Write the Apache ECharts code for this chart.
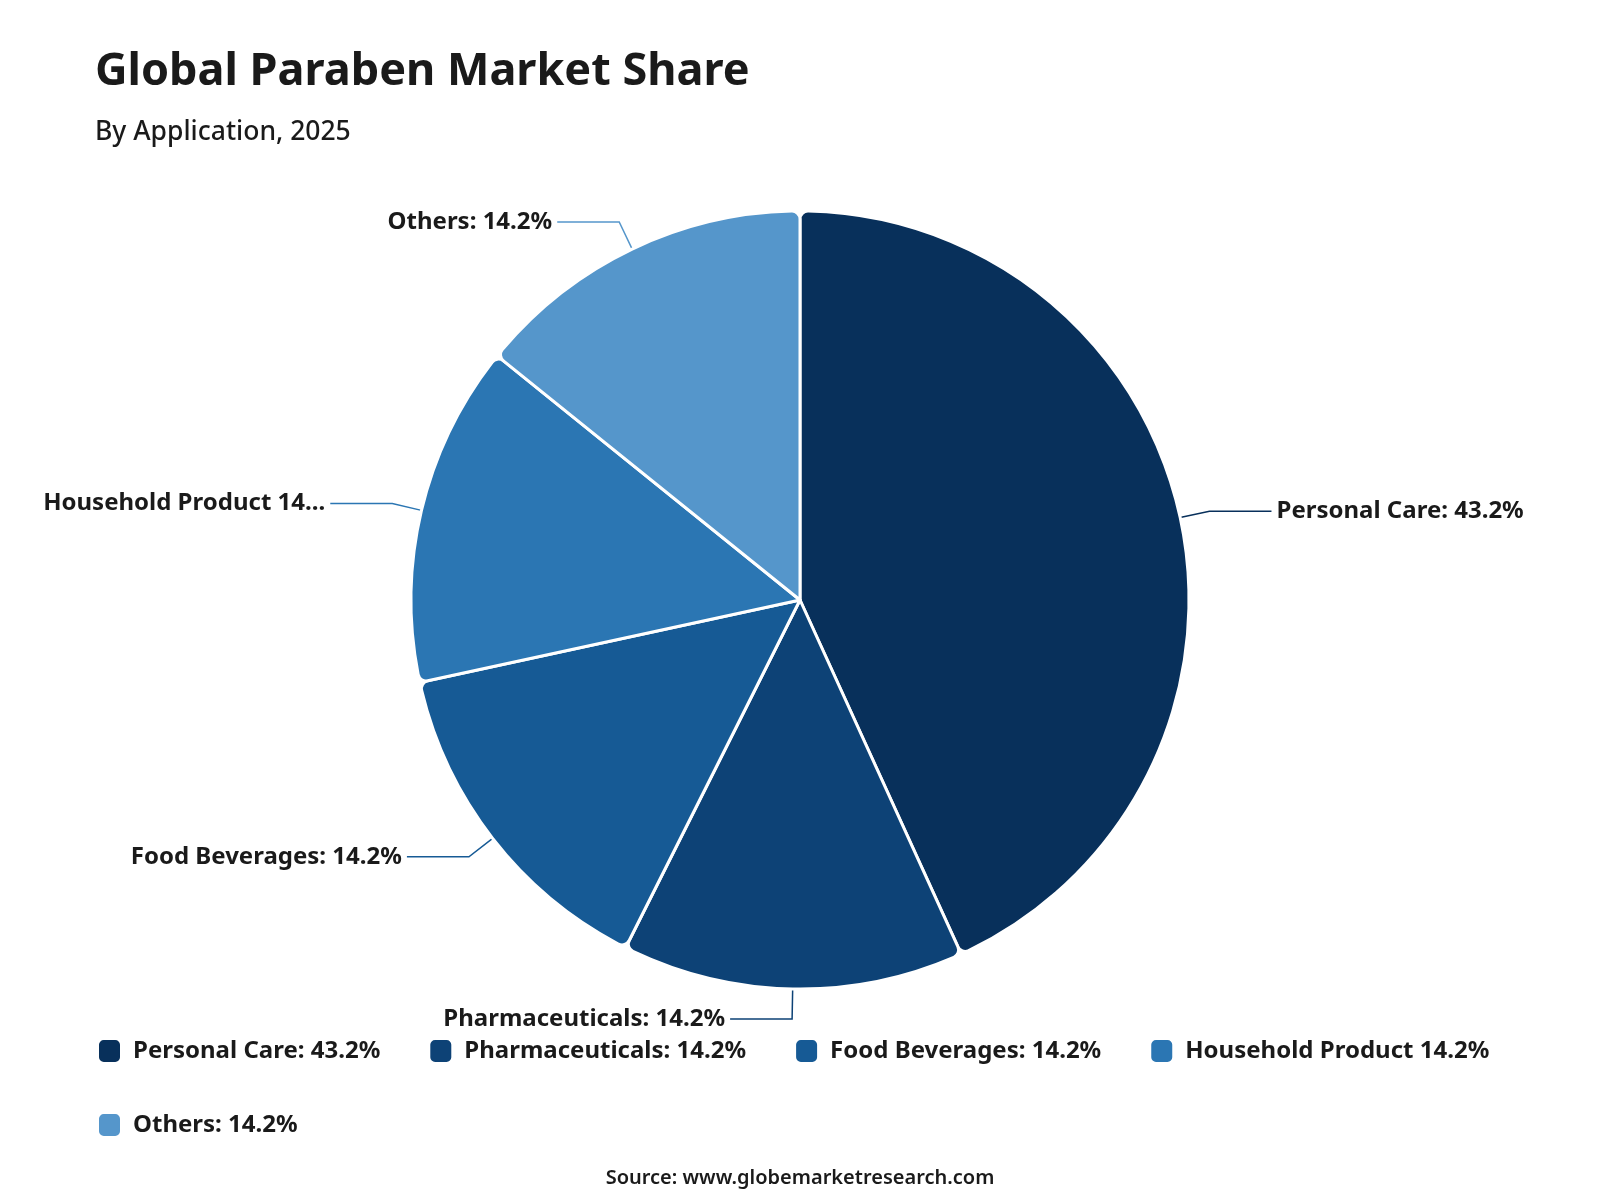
<!DOCTYPE html>
<html>
<head>
<meta charset="utf-8">
<script src="https://cdn.jsdelivr.net/npm/echarts@6/dist/echarts.min.js"></script>
<style>
html,body{margin:0;padding:0;background:#fff;}
#chart{width:1600px;height:1200px;}
</style>
</head>
<body>
<div id="chart"></div>
<script>
const categories = ["Personal Care: 43.2%", "Pharmaceuticals: 14.2%", "Food Beverages: 14.2%", "Household Product 14.2%", "Others: 14.2%"];
const values = [43.2, 14.2, 14.2, 14.2, 14.2];
const colors = ["#08305B", "#0D4276", "#165A95", "#2B76B3", "#5596CB"];

const FONT = "'Noto Sans', 'Open Sans', sans-serif";
const chart = echarts.init(document.getElementById('chart'));
chart.setOption({
  backgroundColor: '#ffffff',
  title: [
    { text: 'Global Paraben Market Share', left: 90, top: 45,
      textStyle: { fontFamily: FONT, fontSize: 45, fontWeight: 'bold', color: '#1a1a1a' } },
    { text: 'By Application, 2025', left: 90, top: 114,
      textStyle: { fontFamily: FONT, fontSize: 26.5, fontWeight: 500, color: '#1a1a1a' } },
    { text: 'Source: www.globemarketresearch.com', left: 'center', top: 1163,
      textStyle: { fontFamily: FONT, fontSize: 20, fontWeight: 600, color: '#1a1a1a' } }
  ],
  legend: {
    data: categories,
    left: 92, top: 1033, width: 1440,
    orient: 'horizontal',
    icon: 'roundRect',
    itemWidth: 23, itemHeight: 24,
    itemGap: 48,
    textStyle: { fontFamily: FONT, fontSize: 24, fontWeight: 'bold', color: '#1a1a1a', padding: [0, 0, 0, 7] }
  },
  series: [{
    type: 'pie',
    center: [800, 600],
    radius: [0, 389],
    startAngle: 90,
    clockwise: true,
    avoidLabelOverlap: true,
    itemStyle: { borderColor: '#ffffff', borderWidth: 3, borderRadius: 8 },
    label: {
      show: true, formatter: '{b}',
      fontFamily: FONT, fontSize: 24, fontWeight: 'bold', color: '#1a1a1a'
    },
    labelLine: { show: true, length: 30, length2: 62, lineStyle: { width: 1.5 } },
    data: categories.map((c, i) => ({
      name: c, value: values[i], itemStyle: { color: colors[i] },
      label: i === 3 ? { width: 285, overflow: 'truncate', ellipsis: '...' } : undefined
    }))
  }]
});
</script>
</body>
</html>
